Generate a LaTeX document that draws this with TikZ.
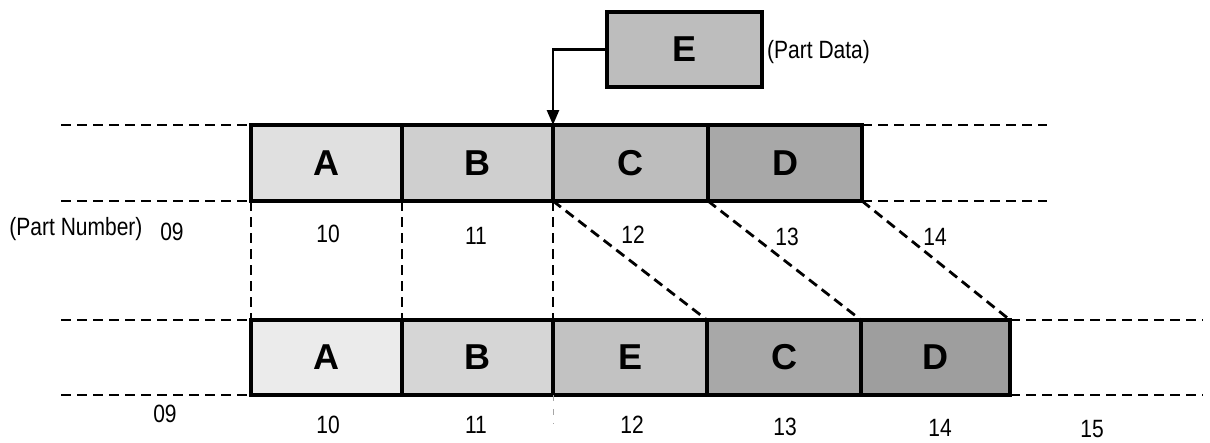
\documentclass[tikz,border=0pt]{standalone}
\usepackage{fontspec}
\setmainfont{Liberation Sans}
\newfontfamily\condfont{Liberation Sans}[FakeStretch=0.84]
\usetikzlibrary{arrows.meta}
\begin{document}
\begin{tikzpicture}[x=1pt,y=-1pt,
  cell/.style={draw,line width=3.2pt,inner sep=0pt,outer sep=0pt,minimum height=76pt,
    font=\bfseries\fontsize{36}{36}\selectfont},
  lbl/.style={inner sep=0pt,font=\condfont\fontsize{25}{25}\selectfont},
  dashline/.style={line width=2.8pt,dash pattern=on 10pt off 6pt},
  feed/.style={line width=2.6pt,-{Triangle[length=15pt,width=12pt]}}]
\useasboundingbox (0,0) rectangle (1210,442);

% top row
\node[cell,minimum width=151pt,fill=black!12] (tA) at (326.5,163) {A};
\node[cell,minimum width=151pt,fill=black!19] (tB) at (477.5,163) {B};
\node[cell,minimum width=155pt,fill=black!26] (tC) at (630.5,163) {C};
\node[cell,minimum width=154pt,fill=black!34] (tD) at (785,163) {D};

% new part
\node[cell,minimum width=155pt,minimum height=75pt,fill=black!26] (nE) at (684.5,49.5) {E};
\node[lbl,anchor=west] (pd) at (767,52) {(Part Data)};

% bottom row
\node[cell,minimum width=151pt,minimum height=75pt,fill=black!8] (bA) at (326.5,357.5) {A};
\node[cell,minimum width=151pt,minimum height=75pt,fill=black!16] (bB) at (477.5,357.5) {B};
\node[cell,minimum width=154pt,minimum height=75pt,fill=black!24] (bE) at (630,357.5) {E};
\node[cell,minimum width=154pt,minimum height=75pt,fill=black!34] (bC) at (784,357.5) {C};
\node[cell,minimum width=149pt,minimum height=75pt,fill=black!38] (bD) at (935.5,357.5) {D};

% feed arrow
\draw[feed] (nE.west) -| (tC.north west);

% row extension dashes
\coordinate (tl1) at (61,125);
\coordinate (tl2) at (61,201);
\coordinate (tr1) at (1047,125);
\coordinate (tr2) at (1047,201);
\coordinate (bl1) at (61,320);
\coordinate (bl2) at (61,395);
\coordinate (br1) at (1203,320);
\coordinate (br2) at (1203,395);
\draw[dashline] (tl1) -- (tA.north west);
\draw[dashline] (tl2) -- (tA.south west);
\draw[dashline] (tD.north east) -- (tr1);
\draw[dashline] (tD.south east) -- (tr2);
\draw[dashline] (bl1) -- (bA.north west);
\draw[dashline] (bl2) -- (bA.south west);
\draw[dashline] (bD.north east) -- (br1);
\draw[dashline] (bD.south east) -- (br2);

% mapping dashes
\draw[dashline] (tA.south west) -- (bA.north west);
\draw[dashline] (tB.south west) -- (bB.north west);
\draw[dashline] (tC.south west) -- (bE.north west);
\draw[dashline] (tC.south west) -- (bC.north west);
\draw[dashline] (tD.south west) -- (bD.north west);
\draw[dashline] (tD.south east) -- (bD.north east);
\coordinate (fe) at (553,424);
\draw[line width=1pt,black!35,dash pattern=on 6pt off 8pt] (bE.south west) -- (fe);

% top labels
\node[lbl] (pn) at (76,229) {(Part Number)};
\node[lbl] (t09) at (172,232) {09};
\node[lbl] (t10) at (328,234) {10};
\node[lbl] (t11) at (476,236) {11};
\node[lbl] (t12) at (633,235) {12};
\node[lbl] (t13) at (787,237) {13};
\node[lbl] (t14) at (935,237) {14};

% bottom labels
\node[lbl] (b09) at (165,414) {09};
\node[lbl] (b10) at (328,425) {10};
\node[lbl] (b11) at (476,425) {11};
\node[lbl] (b12) at (632,425) {12};
\node[lbl] (b13) at (785,427) {13};
\node[lbl] (b14) at (940,428) {14};
\node[lbl] (b15) at (1092,429) {15};
\end{tikzpicture}
\end{document}
